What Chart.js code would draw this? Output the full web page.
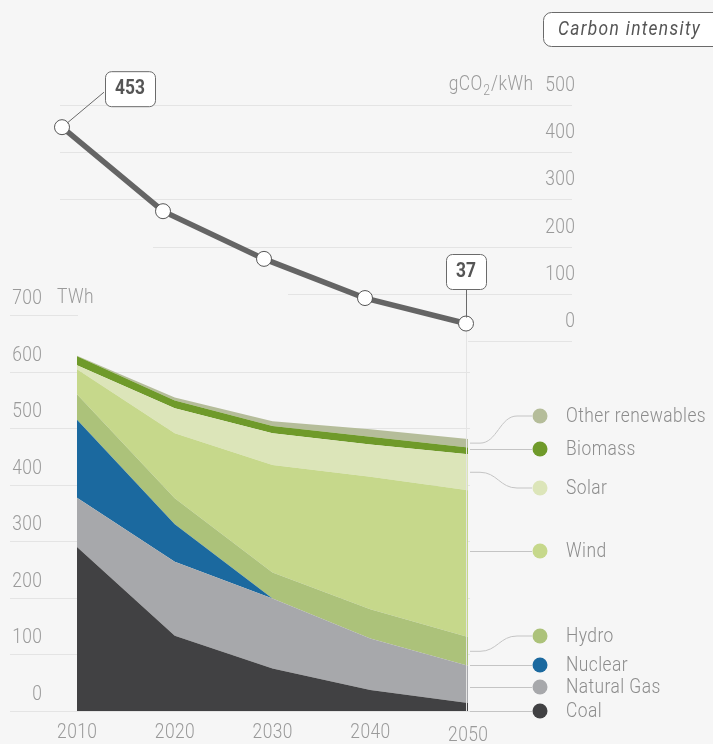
<!DOCTYPE html>
<html>
<head>
<meta charset="utf-8">
<script src="https://cdn.jsdelivr.net/npm/chart.js@4"></script>
<style>
  html, body { margin: 0; padding: 0; background: #f6f6f6; }
  #wrap { position: relative; width: 713px; height: 744px; overflow: hidden; }
  #wrap canvas { position: absolute; left: 0; top: 0; }
</style>
</head>
<body>
<div id="wrap">
  <canvas id="mix" width="713" height="744"></canvas>
  <canvas id="intensity" width="713" height="744"></canvas>
</div>
<script>
const years = ['2010', '2020', '2030', '2040', '2050'];

// TWh per source (stacked from the bottom)
const coal     = [290, 133, 75, 37, 14];
const gas      = [87, 131, 124, 91, 66];
const nuclear  = [138, 66, 0, 0, 0];
const hydro    = [45, 46, 46, 52, 51];
const wind     = [44, 115, 190, 234, 259];
const solar    = [7, 44, 56, 57, 64];
const biomass  = [16, 14, 13, 14, 12];
const other    = [1, 5, 8, 13, 15];

// gCO2/kWh
const carbon = [453, 275, 174, 91, 37];

const mixTicks = [0, 100, 200, 300, 400, 500, 600, 700];
const carbonTicks = [0, 100, 200, 300, 400, 500];

const TICK_COLOR = '#9a9a9a';
const GRID_COLOR = '#e4e4e4';

const sources = [
  { label: 'Coal', data: coal, color: '#414143', legendY: 711 },
  { label: 'Natural Gas', data: gas, color: '#a7a8ab', legendY: 687 },
  { label: 'Nuclear', data: nuclear, color: '#1b699f', legendY: 665 },
  { label: 'Hydro', data: hydro, color: '#acc27a', legendY: 636 },
  { label: 'Wind', data: wind, color: '#c6d88b', legendY: 551 },
  { label: 'Solar', data: solar, color: '#dce5b9', legendY: 488 },
  { label: 'Biomass', data: biomass, color: '#6f9a2a', legendY: 449 },
  { label: 'Other renewables', data: other, color: '#b5bd9a', legendY: 416 }
];

// condensed-looking text: Roboto squeezed horizontally, a bit letter spaced
function txt(ctx, s, x, y, o) {
  o = Object.assign({ size: 20, weight: '300', style: 'normal', align: 'left', color: TICK_COLOR, spacing: 0.5, sx: 0.87 }, o || {});
  ctx.save();
  ctx.font = `${o.style} ${o.weight} ${o.size}px Roboto, "Liberation Sans", sans-serif`;
  ctx.letterSpacing = o.spacing + 'px';
  ctx.textBaseline = 'middle';
  ctx.textAlign = 'left';
  const w = (ctx.measureText(s).width - o.spacing) * o.sx;
  let left = x;
  if (o.align === 'right') left = x - w;
  else if (o.align === 'center') left = x - w / 2;
  ctx.translate(left, y);
  ctx.scale(o.sx, 1);
  ctx.fillStyle = o.color;
  ctx.fillText(s, 0, 0);
  ctx.restore();
  return w;
}

function textWidth(ctx, s, size) {
  ctx.save();
  ctx.font = `300 ${size}px Roboto, "Liberation Sans", sans-serif`;
  ctx.letterSpacing = '0.5px';
  const w = (ctx.measureText(s).width - 0.5) * 0.87;
  ctx.restore();
  return w;
}

function roundRect(ctx, x, y, w, h, r) {
  ctx.beginPath();
  ctx.moveTo(x + r, y);
  ctx.arcTo(x + w, y, x + w, y + h, r);
  ctx.arcTo(x + w, y + h, x, y + h, r);
  ctx.arcTo(x, y + h, x, y, r);
  ctx.arcTo(x, y, x + w, y, r);
  ctx.closePath();
}

// ---------- lower chart: electricity mix ----------
const mixDecor = {
  id: 'mixDecor',
  beforeDatasetsDraw(chart) {
    const { ctx, chartArea, scales: { y } } = chart;
    ctx.save();
    ctx.strokeStyle = GRID_COLOR;
    ctx.lineWidth = 1;
    mixTicks.forEach(v => {
      const py = Math.round(y.getPixelForValue(v)) + 0.5;
      const xEnd = v === 700 ? chartArea.left + 1 : chartArea.right + 2;
      ctx.beginPath();
      ctx.moveTo(10, py);
      ctx.lineTo(xEnd, py);
      ctx.stroke();
      txt(ctx, String(v), 42, py - 17, { align: 'right' });
    });
    txt(ctx, 'TWh', 57, y.getPixelForValue(700) - 17);
    ctx.restore();
  },
  afterDatasetsDraw(chart) {
    const { ctx, chartArea, scales: { x, y } } = chart;
    ctx.save();
    // x labels
    years.forEach((yr, i) => {
      const px = x.getPixelForValue(i);
      txt(ctx, yr, px, i === years.length - 1 ? 736 : 733, { align: 'center' });
    });

    // legend with connectors
    const last = years.length - 1;
    let base = 0;
    const dotX = 540;
    sources.forEach(s => {
      const v = s.data[last];
      const top = base + v;
      const yTop = y.getPixelForValue(top);
      const yBot = y.getPixelForValue(base);
      const yMid = (yTop + yBot) / 2;
      const ly = s.legendY;
      const inside = ly >= yTop - 1 && ly <= yBot + 1;
      const x0 = chartArea.right + 2;
      ctx.strokeStyle = '#c4c4c4';
      ctx.lineWidth = 1;
      ctx.beginPath();
      if (inside && Math.abs(ly - yMid) < 15) {
        ctx.moveTo(x0, ly + 0.5);
        ctx.lineTo(dotX - 8, ly + 0.5);
      } else {
        ctx.moveTo(x0, yMid);
        ctx.lineTo(480, yMid);
        ctx.bezierCurveTo(497, yMid, 500, ly, 517, ly);
        ctx.lineTo(dotX - 8, ly);
      }
      ctx.stroke();

      ctx.fillStyle = s.color;
      ctx.beginPath();
      ctx.arc(dotX, ly, 7.5, 0, Math.PI * 2);
      ctx.fill();

      txt(ctx, s.label, 566, ly + 1, { color: '#8c8c8c' });
      base = top;
    });
    ctx.restore();
  }
};

new Chart(document.getElementById('mix'), {
  type: 'line',
  data: {
    labels: years,
    datasets: sources.map((s, i) => ({
      label: s.label,
      data: s.data,
      backgroundColor: s.color,
      borderColor: s.color,
      borderWidth: 0,
      pointRadius: 0,
      tension: 0,
      fill: i === 0 ? 'origin' : '-1'
    }))
  },
  options: {
    responsive: false,
    animation: false,
    layout: { padding: { left: 77, right: 245, top: 315, bottom: 33 } },
    plugins: { legend: { display: false }, tooltip: { enabled: false } },
    scales: {
      x: { display: false },
      y: { display: false, stacked: true, min: 0, max: 700 }
    }
  },
  plugins: [mixDecor]
});

// ---------- upper chart: carbon intensity ----------
const gridStart = [468, 288, 153, 60, 60, 60];

const carbonDecor = {
  id: 'carbonDecor',
  beforeDatasetsDraw(chart) {
    const { ctx, scales: { x, y } } = chart;
    ctx.save();
    ctx.strokeStyle = GRID_COLOR;
    ctx.lineWidth = 1;
    carbonTicks.forEach((v, i) => {
      const py = Math.round(y.getPixelForValue(v)) + 0.5;
      ctx.beginPath();
      ctx.moveTo(gridStart[i], py);
      ctx.lineTo(572, py);
      ctx.stroke();
      txt(ctx, String(v), 575, py - 20, { align: 'right' });
    });
    // unit label with subscript
    const uy = y.getPixelForValue(500) - 20;
    const wa = textWidth(ctx, 'gCO', 20), wb = textWidth(ctx, '2', 14), wc = textWidth(ctx, '/kWh', 20);
    const ux = 533 - (wa + wb + wc + 2);
    txt(ctx, 'gCO', ux, uy);
    txt(ctx, '2', ux + wa + 1, uy + 6, { size: 14 });
    txt(ctx, '/kWh', ux + wa + wb + 2, uy);

    // vertical line at 2050
    const vx = Math.round(x.getPixelForValue(years.length - 1)) + 0.5;
    ctx.beginPath();
    ctx.moveTo(vx, y.getPixelForValue(0) - 10);
    ctx.lineTo(vx, 711);
    ctx.stroke();
    ctx.restore();
  },
  afterDatasetsDraw(chart) {
    const { ctx, scales: { x, y } } = chart;
    ctx.save();
    ctx.strokeStyle = '#6a6a6a';
    ctx.lineWidth = 1;
    const bold = { weight: 'bold', color: '#555555', align: 'center', spacing: 0, size: 20 };

    // first value
    const p0x = x.getPixelForValue(0), p0y = y.getPixelForValue(carbon[0]);
    const bx = p0x + 43, by = p0y - 56;
    ctx.beginPath();
    ctx.moveTo(p0x + 5, p0y - 4);
    ctx.lineTo(bx - 1, by + 21);
    ctx.stroke();
    roundRect(ctx, bx + 0.5, by + 0.5, 50, 35, 6);
    ctx.fillStyle = '#ffffff';
    ctx.fill();
    ctx.stroke();
    txt(ctx, String(carbon[0]), bx + 25, by + 18, bold);

    // last value
    const n = carbon.length - 1;
    const pnx = x.getPixelForValue(n), pny = y.getPixelForValue(carbon[n]);
    const lx = Math.round(pnx) + 0.5;
    ctx.beginPath();
    ctx.moveTo(lx, pny - 70 + 35);
    ctx.lineTo(lx, pny - 6);
    ctx.stroke();
    roundRect(ctx, Math.round(pnx - 20) + 0.5, Math.round(pny - 70) + 0.5, 40, 35, 6);
    ctx.fillStyle = '#ffffff';
    ctx.fill();
    ctx.stroke();
    txt(ctx, String(carbon[n]), pnx, pny - 52, bold);

    // title box
    roundRect(ctx, 543.5, 12.5, 190, 34, 8);
    ctx.fillStyle = '#ffffff';
    ctx.fill();
    ctx.stroke();
    txt(ctx, 'Carbon intensity', 558, 30, { style: 'italic', weight: '400', color: '#555555', spacing: 1.5 });
    ctx.restore();
  }
};

new Chart(document.getElementById('intensity'), {
  type: 'line',
  data: {
    labels: years,
    datasets: [{
      label: 'Carbon intensity',
      data: carbon,
      borderColor: '#656565',
      borderWidth: 5.5,
      tension: 0,
      fill: false,
      clip: false,
      pointRadius: 7.5,
      pointBackgroundColor: '#ffffff',
      pointBorderColor: '#555555',
      pointBorderWidth: 1
    }]
  },
  options: {
    responsive: false,
    animation: false,
    layout: { padding: { left: 62, right: 247, top: 105, bottom: 403 } },
    plugins: { legend: { display: false }, tooltip: { enabled: false } },
    scales: {
      x: { display: false },
      y: { display: false, min: 0, max: 500 }
    }
  },
  plugins: [carbonDecor]
});
</script>
</body>
</html>
